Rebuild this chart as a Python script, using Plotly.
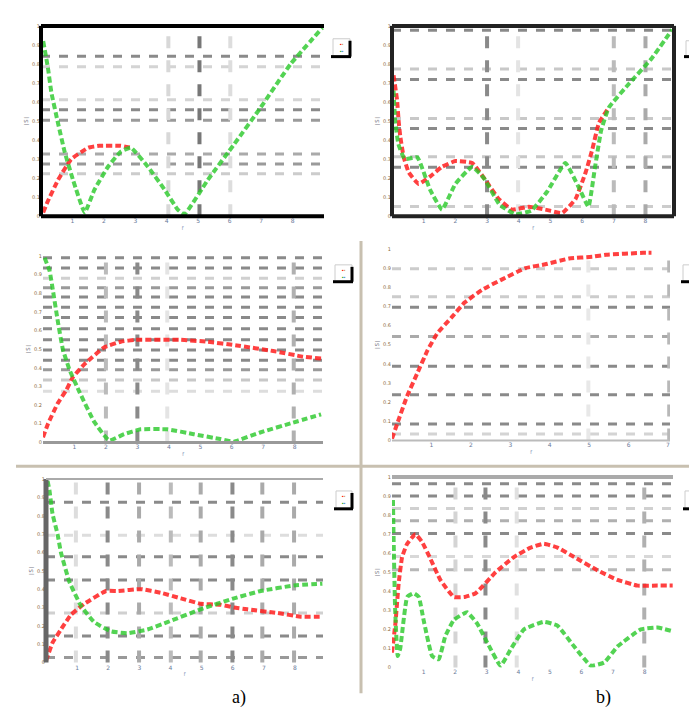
import plotly.graph_objects as go

W, H = 697, 720

# ---------------- data ----------------
# Panel a1 (top left)
a1_red_x = [0.07, 0.22, 0.54, 0.96, 1.5, 1.85, 2.54, 2.86]
a1_red_y = [0.02, 0.08, 0.19, 0.30, 0.36, 0.37, 0.37, 0.36]
a1_grn_x = [0.07, 0.22, 0.33, 0.54, 0.75, 1.02, 1.39, 1.70, 2.13, 2.54, 2.86, 3.40, 3.93, 4.35, 4.56, 5.3, 6.15, 6.98, 7.94, 8.95]
a1_grn_y = [0.92, 0.78, 0.65, 0.49, 0.34, 0.19, 0.02, 0.14, 0.26, 0.34, 0.36, 0.26, 0.14, 0.035, 0.01, 0.19, 0.38, 0.57, 0.80, 0.99]

# Panel b1 (top right)
b1_red_x = [0.05, 0.16, 0.21, 0.26, 0.37, 0.53, 0.84, 1.21, 1.58, 2.0, 2.53, 2.95, 3.37, 3.79, 4.32, 4.84, 5.37, 5.79, 6.11, 6.32, 6.53, 6.84]
b1_red_y = [0.74, 0.61, 0.50, 0.42, 0.31, 0.23, 0.17, 0.21, 0.26, 0.29, 0.28, 0.19, 0.09, 0.035, 0.05, 0.035, 0.017, 0.09, 0.23, 0.35, 0.49, 0.57]
b1_grn_x = [0.05, 0.1, 0.2, 0.4, 0.8, 1.2, 1.58, 2.0, 2.53, 2.9, 3.4, 3.9, 4.4, 4.9, 5.47, 5.9, 6.2, 6.4, 6.6, 6.84, 7.5, 8.2, 8.84]
b1_grn_y = [0.66, 0.50, 0.38, 0.30, 0.31, 0.14, 0.035, 0.17, 0.26, 0.20, 0.06, 0.01, 0.03, 0.13, 0.28, 0.15, 0.05, 0.25, 0.45, 0.57, 0.70, 0.83, 0.98]

# Panel a2 (middle left)
a2_red_x = [0.0, 0.16, 0.47, 0.74, 0.95, 1.32, 1.95, 2.47, 2.95, 4.37, 5.21, 6.16, 7.32, 8.26, 8.84]
a2_red_y = [0.027, 0.10, 0.21, 0.28, 0.35, 0.42, 0.51, 0.54, 0.55, 0.55, 0.54, 0.52, 0.49, 0.46, 0.45]
a2_grn_x = [0.05, 0.21, 0.32, 0.47, 0.63, 0.84, 1.16, 1.63, 2.1, 2.58, 3.1, 3.95, 4.79, 5.63, 6.05, 6.9, 7.95, 8.84]
a2_grn_y = [0.99, 0.92, 0.81, 0.65, 0.50, 0.39, 0.27, 0.11, 0.01, 0.044, 0.07, 0.07, 0.044, 0.018, 0.004, 0.053, 0.106, 0.15]

# Panel b2 (middle right)
b2_red_x = [0.0, 0.13, 0.38, 0.64, 0.9, 1.15, 1.5, 1.84, 2.31, 2.78, 3.38, 3.89, 4.49, 5.09, 5.43, 6.37, 6.58]
b2_red_y = [0.009, 0.086, 0.23, 0.35, 0.47, 0.56, 0.64, 0.72, 0.79, 0.84, 0.90, 0.92, 0.95, 0.96, 0.97, 0.98, 0.98]

# Panel a3 (bottom left)
a3_red_x = [0.0, 0.21, 0.48, 0.8, 1.23, 1.93, 2.3, 3.05, 3.69, 4.33, 4.97, 5.61, 6.04, 6.47, 7.43, 8.18, 8.88]
a3_red_y = [0.009, 0.108, 0.18, 0.26, 0.32, 0.39, 0.39, 0.40, 0.38, 0.35, 0.32, 0.315, 0.30, 0.29, 0.27, 0.25, 0.25]
a3_grn_x = [0.05, 0.11, 0.21, 0.37, 0.48, 0.75, 1.12, 1.55, 2.09, 2.62, 3.26, 3.9, 4.97, 6.04, 6.9, 7.97, 8.88]
a3_grn_y = [0.99, 0.94, 0.81, 0.70, 0.60, 0.44, 0.31, 0.22, 0.17, 0.16, 0.18, 0.22, 0.29, 0.35, 0.39, 0.42, 0.43]

# Panel b3 (bottom right)
b3_red_x = [0.0, 0.11, 0.21, 0.32, 0.48, 0.74, 0.95, 1.22, 1.53, 1.96, 2.28, 2.65, 3.28, 3.86, 4.39, 4.81, 5.24, 5.77, 6.51, 7.14, 7.78, 8.41, 8.89]
b3_red_y = [0.078, 0.235, 0.44, 0.58, 0.65, 0.70, 0.66, 0.57, 0.46, 0.37, 0.37, 0.39, 0.50, 0.58, 0.63, 0.65, 0.63, 0.58, 0.51, 0.46, 0.43, 0.43, 0.43]
b3_grn_x = [0.03, 0.06, 0.1, 0.18, 0.26, 0.48, 0.69, 0.85, 1.0, 1.27, 1.48, 1.69, 1.96, 2.38, 2.7, 3.02, 3.44, 3.76, 4.18, 4.81, 5.24, 5.77, 6.3, 6.72, 7.14, 7.88, 8.41, 8.89]
b3_grn_y = [0.88, 0.60, 0.30, 0.06, 0.10, 0.37, 0.39, 0.37, 0.25, 0.06, 0.043, 0.165, 0.25, 0.29, 0.23, 0.13, 0.009, 0.096, 0.20, 0.24, 0.22, 0.11, 0.009, 0.026, 0.11, 0.20, 0.21, 0.19]

# gridline positions (value, shade)
a1_hgrid = [(0.84, "#8a8a8a"), (0.786, "#d4d4d4"), (0.612, "#d4d4d4"), (0.56, "#8a8a8a"), (0.504, "#9a9a9a"), (0.327, "#aaaaaa"), (0.275, "#9a9a9a"), (0.223, "#cccccc")]
a1_vgrid = [(4.05, "#d8d8d8"), (5.04, "#777777"), (6.02, "#dddddd")]
b1_hgrid = [(0.977, "#8a8a8a"), (0.774, "#c8c8c8"), (0.718, "#8a8a8a"), (0.513, "#c8c8c8"), (0.461, "#8a8a8a"), (0.313, "#c8c8c8"), (0.257, "#8a8a8a"), (0.052, "#cccccc")]
b1_vgrid = [(3.0, "#8a8a8a"), (3.98, "#e4e4e4"), (7.0, "#bbbbbb"), (8.0, "#aaaaaa")]
a2_hgrid = [(0.99, "#8a8a8a"), (0.935, "#8a8a8a"), (0.88, "#d0d0d0"), (0.83, "#9a9a9a"), (0.78, "#8a8a8a"), (0.725, "#8a8a8a"), (0.67, "#8a8a8a"), (0.61, "#8a8a8a"), (0.55, "#8a8a8a"), (0.495, "#8a8a8a"), (0.44, "#8a8a8a"), (0.39, "#9a9a9a"), (0.335, "#c8c8c8"), (0.274, "#dddddd")]
a2_vgrid = [(2.0, "#bbbbbb"), (3.0, "#8a8a8a"), (3.95, "#e4e4e4"), (7.97, "#b0b0b0")]
b2_hgrid = [(0.897, "#cccccc"), (0.75, "#cccccc"), (0.695, "#8a8a8a"), (0.543, "#aaaaaa"), (0.388, "#8a8a8a"), (0.238, "#8a8a8a"), (0.086, "#8a8a8a"), (0.034, "#d4d4d4")]
b2_vgrid = [(4.98, "#e8e8e8"), (7.03, "#b8b8b8")]
a3_hgrid = [(0.874, "#8a8a8a"), (0.694, "#dddddd"), (0.577, "#8a8a8a"), (0.45, "#8a8a8a"), (0.27, "#d0d0d0"), (0.144, "#8a8a8a"), (0.027, "#999999")]
a3_vgrid = [(0.96, "#dddddd"), (1.98, "#8a8a8a"), (2.99, "#aaaaaa"), (4.01, "#bbbbbb"), (4.97, "#aaaaaa"), (5.99, "#8a8a8a"), (6.95, "#aaaaaa"), (7.97, "#aaaaaa")]
b3_hgrid = [(0.965, "#8a8a8a"), (0.9, "#8a8a8a"), (0.835, "#d0d0d0"), (0.77, "#b0b0b0"), (0.704, "#8a8a8a"), (0.583, "#d8d8d8"), (0.513, "#b8b8b8")]
b3_vgrid = [(2.01, "#d4d4d4"), (2.96, "#8a8a8a"), (3.95, "#e0e0e0"), (7.99, "#b0b0b0")]

x_ticks_9 = [1, 2, 3, 4, 5, 6, 7, 8]
x_ticks_7 = [1, 2, 3, 4, 5, 6, 7]

RED = "rgba(255,30,30,0.85)"
GREEN = "rgba(40,200,40,0.80)"

# panel pixel boxes: (x0, x1, ytop, ybottom)
panels = {
    "a1": dict(box=(33, 316, 15, 207), xr=[0, 9], xt=x_ticks_9,
               series=[(a1_red_x, a1_red_y, RED), (a1_grn_x, a1_grn_y, GREEN)],
               hg=a1_hgrid, vg=a1_vgrid, legend=(325, 342, 28, 46)),
    "b1": dict(box=(384, 666, 15, 207), xr=[0, 8.9], xt=x_ticks_9,
               series=[(b1_red_x, b1_red_y, RED), (b1_grn_x, b1_grn_y, GREEN)],
               hg=b1_hgrid, vg=b1_vgrid, legend=(678, 695, 30, 46)),
    "a2": dict(box=(35, 315, 247, 435), xr=[0, 8.9], xt=x_ticks_9,
               series=[(a2_red_x, a2_red_y, RED), (a2_grn_x, a2_grn_y, GREEN)],
               hg=a2_hgrid, vg=a2_vgrid, legend=(327, 344, 256, 273)),
    "b2": dict(box=(384, 662, 240, 433), xr=[0, 7.05], xt=x_ticks_7,
               series=[(b2_red_x, b2_red_y, RED)],
               hg=b2_hgrid, vg=b2_vgrid, legend=(675, 694, 256, 273)),
    "a3": dict(box=(38, 315, 472, 657), xr=[0, 8.9], xt=x_ticks_9,
               series=[(a3_red_x, a3_red_y, RED), (a3_grn_x, a3_grn_y, GREEN)],
               hg=a3_hgrid, vg=a3_vgrid, legend=(328, 344, 484, 502)),
    "b3": dict(box=(384, 665, 470, 662), xr=[0, 8.9], xt=x_ticks_9,
               series=[(b3_red_x, b3_red_y, RED), (b3_grn_x, b3_grn_y, GREEN)],
               hg=b3_hgrid, vg=b3_vgrid, legend=(677, 694, 484, 502)),
}

axis_style = {
    "a1": dict(left=("black", 4), bottom=("black", 4), top=("black", 4), right=None),
    "b1": dict(left=("#222", 4), bottom=("#222", 4), top=("#222", 4), right=("#222", 4)),
    "a2": dict(left=None, bottom=("#999", 3), top=None, right=None),
    "b2": dict(left=None, bottom=("#bbb", 2), top=None, right=None),
    "a3": dict(left=("#666", 5), bottom=None, top=("#aaa", 2), right=None),
    "b3": dict(left=None, bottom=None, top=("#aaa", 4), right=None),
}

fig = go.Figure()
layout = dict(width=W, height=H, margin=dict(l=0, r=0, t=0, b=0),
              paper_bgcolor="white", plot_bgcolor="white", showlegend=False)
shapes = []
annotations = []

def px2x(p):
    return p / W

def px2y(p):
    return 1 - p / H

for i, (key, p) in enumerate(panels.items(), start=1):
    xa = "x" if i == 1 else f"x{i}"
    ya = "y" if i == 1 else f"y{i}"
    x0, x1, yt, yb = p["box"]
    layout[f"xaxis{'' if i == 1 else i}"] = dict(
        domain=[px2x(x0), px2x(x1)], range=p["xr"], anchor=ya,
        showgrid=False, zeroline=False, showline=False,
        tickmode="array", tickvals=p["xt"], ticktext=[str(t) for t in p["xt"]],
        tickfont=dict(size=6, color="#6a7a9a", family="DejaVu Sans"), ticks="",
        title=dict(text="f", font=dict(size=6, color="#8899bb"), standoff=2),
    )
    layout[f"yaxis{'' if i == 1 else i}"] = dict(
        domain=[px2y(yb), px2y(yt)], range=[0, 1.0], anchor=xa,
        showgrid=False, zeroline=False, showline=False,
        dtick=0.1, tickfont=dict(size=5, color="#8a6a3a", family="DejaVu Sans"), ticks="",
        title=dict(text="|S|", font=dict(size=6, color="#556"), standoff=2),
    )
    # gridlines
    for v, c in p["hg"]:
        shapes.append(dict(type="line", xref=f"{xa} domain", yref=ya, x0=0, x1=1, y0=v, y1=v,
                           line=dict(color=c, width=3, dash="dash"), layer="below"))
    for v, c in p["vg"]:
        shapes.append(dict(type="line", xref=xa, yref=f"{ya} domain", x0=v, x1=v, y0=0, y1=1,
                           line=dict(color=c, width=4, dash="dash"), layer="below"))
    # axis frame lines
    st = axis_style[key]
    if st["left"]:
        shapes.append(dict(type="line", xref=f"{xa} domain", yref=f"{ya} domain", x0=0, x1=0, y0=0, y1=1,
                           line=dict(color=st["left"][0], width=st["left"][1])))
    if st["right"]:
        shapes.append(dict(type="line", xref=f"{xa} domain", yref=f"{ya} domain", x0=1, x1=1, y0=0, y1=1,
                           line=dict(color=st["right"][0], width=st["right"][1])))
    if st["bottom"]:
        shapes.append(dict(type="line", xref=f"{xa} domain", yref=f"{ya} domain", x0=0, x1=1, y0=0, y1=0,
                           line=dict(color=st["bottom"][0], width=st["bottom"][1])))
    if st["top"]:
        shapes.append(dict(type="line", xref=f"{xa} domain", yref=f"{ya} domain", x0=0, x1=1, y0=1, y1=1,
                           line=dict(color=st["top"][0], width=st["top"][1])))
    # data series
    for sx, sy, col in p["series"]:
        fig.add_trace(go.Scatter(x=sx, y=sy, mode="lines", xaxis=xa, yaxis=ya,
                                 line=dict(color=col, width=4, dash="6px,3px", shape="spline", smoothing=0.35),
                                 hoverinfo="skip"))
    # small legend box
    lx0, lx1, lyt, lyb = p["legend"]
    shapes.append(dict(type="rect", xref="paper", yref="paper",
                       x0=px2x(lx0), x1=px2x(lx1), y0=px2y(lyb), y1=px2y(lyt),
                       fillcolor="white", line=dict(color="#cccccc", width=1)))
    shapes.append(dict(type="line", xref="paper", yref="paper",
                       x0=px2x(lx0 - 2), x1=px2x(lx1 + 1), y0=px2y(lyb), y1=px2y(lyb),
                       line=dict(color="black", width=3)))
    shapes.append(dict(type="line", xref="paper", yref="paper",
                       x0=px2x(lx1), x1=px2x(lx1), y0=px2y(lyb), y1=px2y(lyt + 2),
                       line=dict(color="black", width=3)))
    annotations.append(dict(xref="paper", yref="paper", x=px2x((lx0 + lx1) / 2), y=px2y((lyt + lyb) / 2),
                            text="<span style='color:red'>▪</span><span style='color:#ccaa66'>▪</span><br>"
                                 "<span style='color:#22aa22'>▪</span><span style='color:#5588cc'>▪</span>",
                            showarrow=False, font=dict(size=5), xanchor="center", yanchor="middle"))

# divider lines between sub-figures
shapes.append(dict(type="line", xref="paper", yref="paper", x0=px2x(8), x1=1, y0=px2y(459), y1=px2y(459),
                   line=dict(color="#c8c0b0", width=3)))
shapes.append(dict(type="line", xref="paper", yref="paper", x0=px2x(353), x1=px2x(353), y0=px2y(688), y1=px2y(232),
                   line=dict(color="#c8c0b0", width=3)))

annotations.append(dict(xref="paper", yref="paper", x=px2x(222), y=px2y(705), text="a)", showarrow=False,
                        font=dict(size=18, family="Liberation Serif", color="black")))
annotations.append(dict(xref="paper", yref="paper", x=px2x(605), y=px2y(705), text="b)", showarrow=False,
                        font=dict(size=18, family="Liberation Serif", color="black")))

layout["shapes"] = shapes
layout["annotations"] = annotations
fig.update_layout(**layout)
fig.write_html("out.html")
